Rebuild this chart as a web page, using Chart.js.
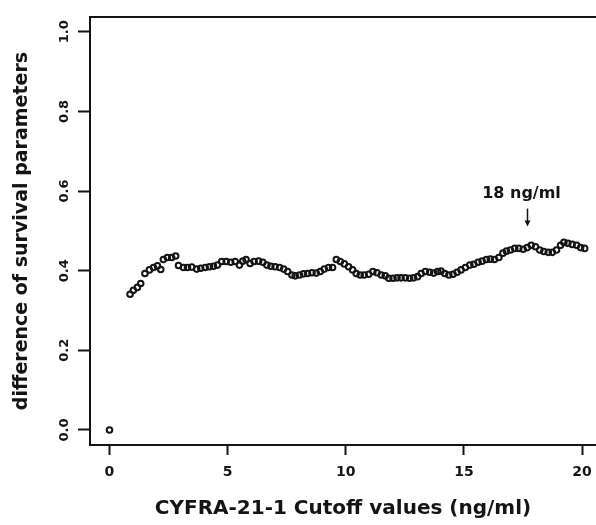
<!DOCTYPE html>
<html>
<head>
<meta charset="utf-8">
<script src="https://cdn.jsdelivr.net/npm/chart.js@4/dist/chart.umd.min.js"></script>
<style>
  body { margin: 0; background: #fff; }
  canvas { display: block; }
</style>
</head>
<body>
<canvas id="chart" width="596" height="525"></canvas>
<script>
// cutoff values (ng/ml) and difference of survival parameters
const cutoffs = [
  0, 0.87, 1.01, 1.18, 1.32, 1.50, 1.69, 1.86, 2.03, 2.17, 2.28, 2.45, 2.63, 2.80,
  2.92, 3.13, 3.30, 3.48, 3.69, 3.86, 4.05, 4.23, 4.40, 4.57,
  4.75, 4.94, 5.13, 5.32, 5.50, 5.64, 5.78, 5.95, 6.12, 6.31,
  6.49, 6.66, 6.83, 7.01, 7.20, 7.37, 7.54, 7.72, 7.86, 8.04,
  8.21, 8.38, 8.57, 8.75, 8.92, 9.09, 9.27, 9.44, 9.60, 9.77,
  9.94, 10.12, 10.29, 10.44, 10.61, 10.78, 10.97, 11.15, 11.32, 11.50,
  11.67, 11.82, 12.00, 12.17, 12.34, 12.52, 12.70, 12.87, 13.04, 13.19,
  13.37, 13.55, 13.72, 13.89, 14.03, 14.19, 14.36, 14.54, 14.71, 14.88,
  15.06, 15.25, 15.42, 15.60, 15.77, 15.95, 16.12, 16.29, 16.48, 16.65,
  16.80, 16.97, 17.15, 17.32, 17.51, 17.68, 17.85, 18.03, 18.21, 18.38,
  18.57, 18.74, 18.92, 19.09, 19.23, 19.40, 19.58, 19.77, 19.94, 20.11
];
const diffs = [
  0.0, 0.341, 0.351, 0.358, 0.368, 0.393, 0.402, 0.408, 0.412, 0.403, 0.428, 0.433, 0.433, 0.437,
  0.413, 0.408, 0.408, 0.409, 0.404, 0.406, 0.408, 0.410, 0.411, 0.414,
  0.423, 0.423, 0.421, 0.423, 0.414, 0.424, 0.428, 0.418, 0.423, 0.424,
  0.421, 0.414, 0.411, 0.410, 0.408, 0.404, 0.398, 0.389, 0.387, 0.389,
  0.392, 0.393, 0.395, 0.394, 0.398, 0.404, 0.408, 0.408, 0.428, 0.423,
  0.417, 0.410, 0.402, 0.393, 0.389, 0.389, 0.391, 0.398, 0.395, 0.389,
  0.387, 0.381, 0.381, 0.382, 0.382, 0.382, 0.381, 0.382, 0.385, 0.393,
  0.398, 0.396, 0.394, 0.398, 0.399, 0.393, 0.389, 0.391, 0.396, 0.402,
  0.408, 0.414, 0.416, 0.421, 0.424, 0.428, 0.429, 0.428, 0.433, 0.444,
  0.449, 0.452, 0.456, 0.456, 0.454, 0.458, 0.464, 0.460, 0.452, 0.448,
  0.446, 0.446, 0.452, 0.464, 0.471, 0.469, 0.466, 0.464, 0.458, 0.456
];
const xTicks = [0, 5, 10, 15, 20];
const yTicks = [0, 0.2, 0.4, 0.6, 0.8, 1.0];
const xTitle = 'CYFRA-21-1 Cutoff values (ng/ml)';
const yTitle = 'difference of survival parameters';
const markLabel = '18 ng/ml';
const markIndex = 99; // point the arrow sits over

const ink = '#141414';
const family = '"DejaVu Sans", "Liberation Sans", sans-serif';

// top frame line + arrow annotation
const extras = {
  id: 'extras',
  afterDraw(chart) {
    const { ctx, chartArea, scales: { x, y } } = chart;
    ctx.save();
    ctx.strokeStyle = ink;
    ctx.lineWidth = 2;
    ctx.beginPath();
    ctx.moveTo(chartArea.left - 1, chartArea.top);
    ctx.lineTo(chartArea.right, chartArea.top);
    ctx.stroke();

    const ax = Math.round(x.getPixelForValue(cutoffs[markIndex])) + 0.5;
    const tip = y.getPixelForValue(diffs[markIndex]) - 22;
    ctx.lineWidth = 1.5;
    ctx.beginPath();
    ctx.moveTo(ax, tip - 17);
    ctx.lineTo(ax, tip - 3);
    ctx.stroke();
    ctx.fillStyle = ink;
    ctx.beginPath();
    ctx.moveTo(ax - 3, tip - 5);
    ctx.lineTo(ax + 3, tip - 5);
    ctx.lineTo(ax, tip + 1);
    ctx.closePath();
    ctx.fill();

    ctx.font = 'bold 16px ' + family;
    ctx.textAlign = 'center';
    ctx.textBaseline = 'alphabetic';
    ctx.fillText(markLabel, ax - 6, tip - 28);
    ctx.restore();
  }
};

const points = cutoffs.map((c, i) => ({ x: c, y: diffs[i] }));

new Chart(document.getElementById('chart').getContext('2d'), {
  type: 'scatter',
  data: {
    datasets: [{
      data: points,
      pointStyle: 'circle',
      pointRadius: 2.8,
      borderWidth: 2,
      borderColor: ink,
      backgroundColor: 'rgba(255,255,255,0)'
    }]
  },
  options: {
    responsive: false,
    animation: false,
    layout: { autoPadding: false, padding: { top: 17, left: 0, right: 0, bottom: 0 } },
    plugins: {
      legend: { display: false },
      tooltip: { enabled: false }
    },
    scales: {
      x: {
        type: 'linear',
        min: -0.825,
        max: 20.59,
        afterFit: s => { s.height = 80; s.paddingLeft = 0; s.paddingRight = 0; },
        afterBuildTicks: s => { s.ticks = xTicks.map(v => ({ value: v })); },
        grid: { drawOnChartArea: false, drawTicks: true, tickLength: 10, tickWidth: 2, tickColor: ink },
        border: { display: true, color: ink, width: 2 },
        ticks: {
          padding: 9,
          color: ink,
          font: { family: family, size: 14, weight: 'bold' },
          callback: v => String(v)
        },
        title: {
          display: true,
          text: xTitle,
          color: ink,
          font: { family: family, size: 20, weight: 'bold' },
          padding: { top: 0, bottom: 4 }
        }
      },
      y: {
        type: 'linear',
        min: -0.0377,
        max: 1.037,
        afterFit: s => { s.width = 90; },
        afterBuildTicks: s => { s.ticks = yTicks.map(v => ({ value: v })); },
        grid: { drawOnChartArea: false, drawTicks: true, tickLength: 12, tickWidth: 2, tickColor: ink },
        border: { display: true, color: ink, width: 2 },
        ticks: {
          minRotation: 90,
          maxRotation: 90,
          crossAlign: 'center',
          padding: 1.5,
          color: ink,
          font: { family: family, size: 13, weight: 'bold' },
          callback: v => v.toFixed(1)
        },
        title: {
          display: true,
          text: yTitle,
          color: ink,
          font: { family: family, size: 19, weight: 'bold' },
          padding: { top: 11, bottom: 0 }
        }
      }
    }
  },
  plugins: [extras]
});
</script>
</body>
</html>
